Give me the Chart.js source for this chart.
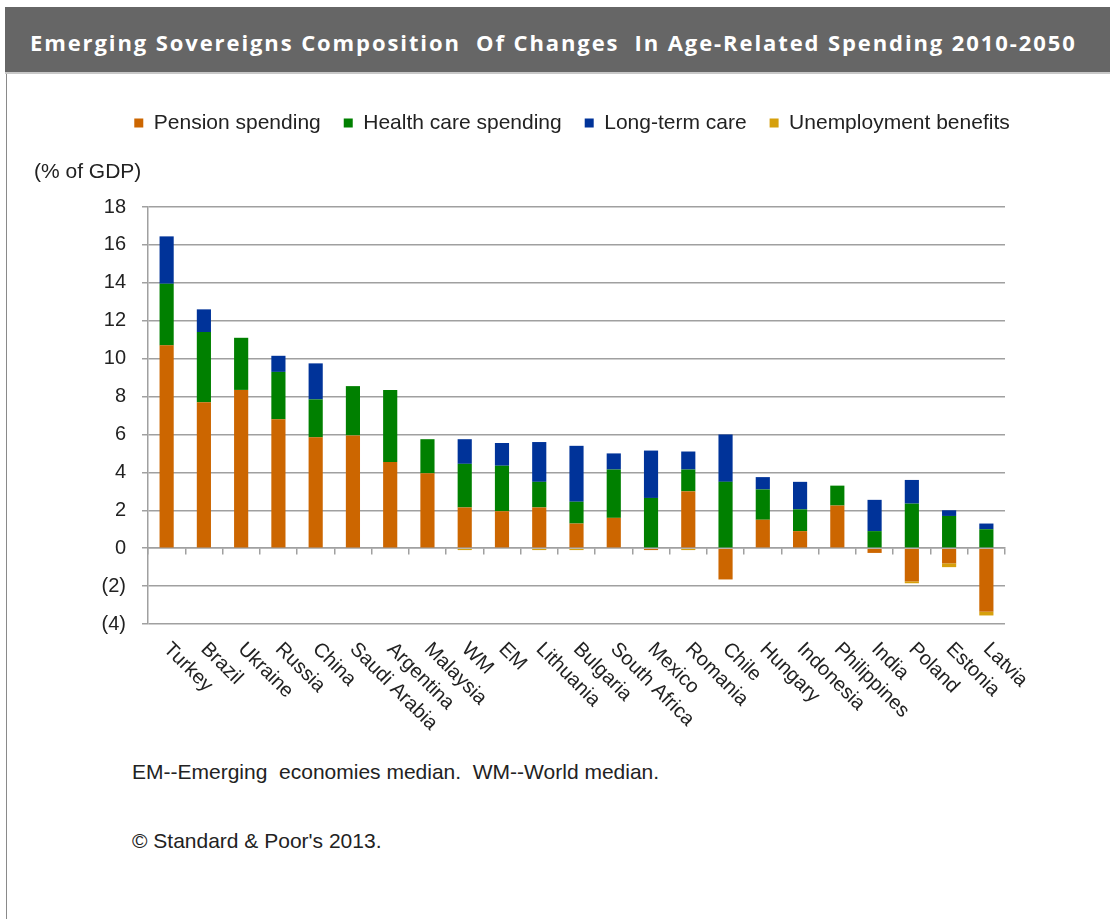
<!DOCTYPE html>
<html lang="en">
<head>
  <meta charset="UTF-8">
  <title>Emerging Sovereigns Composition Of Changes In Age-Related Spending 2010-2050</title>
  <style>
    body {
      margin: 0;
      background: #fff;
      font-family: "Liberation Sans", Arial, sans-serif;
      color: #222;
    }
    #frame {
      position: absolute;
      left: 6px;
      top: 7px;
      width: 1104px;
      height: 930px;
      border-left: 1px solid #8a8a8a;
    }
    #titlebar {
      position: absolute;
      left: 5px;
      top: 7px;
      width: 1105px;
      height: 65px;
      background: #666;
      border-bottom: 2px solid #c8c8c8;
      color: #fff;
      font-family: "Open Sans", sans-serif;
      font-weight: 700;
      font-size: 22px;
      letter-spacing: 1.9px;
      line-height: 65px;
      white-space: pre;
    }
    #titlebar span { position: absolute; left: 25px; top: 3px; }
    #wrap {
      position: absolute;
      left: 0;
      top: 83px;
      width: 1110px;
      height: 670px;
    }
    .note {
      position: absolute;
      left: 132px;
      font-size: 21px;
      line-height: 21px;
      white-space: pre;
    }
  </style>
</head>
<body>
  <div id="frame"></div>
  <div id="titlebar"><span>Emerging Sovereigns Composition  Of Changes  In Age-Related Spending 2010-2050</span></div>
  <div id="wrap"><canvas id="spendingChart"></canvas></div>
  <div class="note" style="top:761px">EM--Emerging  economies median.  WM--World median.</div>
  <div class="note" style="top:830px">© Standard &amp; Poor's 2013.</div>

  <script src="https://cdn.jsdelivr.net/npm/chart.js"></script>
  <script>
    // categories and values (% of GDP)
    var categories = ['Turkey', 'Brazil', 'Ukraine', 'Russia', 'China', 'Saudi Arabia', 'Argentina', 'Malaysia',
      'WM', 'EM', 'Lithuania', 'Bulgaria', 'South Africa', 'Mexico', 'Romania', 'Chile', 'Hungary',
      'Indonesia', 'Philippines', 'India', 'Poland', 'Estonia', 'Latvia'];
    var pension = [10.7, 7.7, 8.35, 6.8, 5.85, 5.95, 4.55, 3.95, 2.15, 1.95, 2.15, 1.3, 1.6, -0.1, 3.0,
      -1.65, 1.5, 0.9, 2.25, -0.25, -1.75, -0.8, -3.35];
    var healthCare = [3.25, 3.7, 2.75, 2.5, 2.0, 2.6, 3.8, 1.8, 2.3, 2.4, 1.35, 1.15, 2.55, 2.65, 1.15,
      3.5, 1.6, 1.15, 1.05, 0.9, 2.35, 1.7, 1.0];
    var longTermCare = [2.5, 1.2, 0, 0.85, 1.9, 0, 0, 0, 1.3, 1.2, 2.1, 2.95, 0.85, 2.5, 0.95,
      2.5, 0.65, 1.45, 0, 1.65, 1.25, 0.3, 0.3];
    var unemployment = [0, 0, 0, 0, 0, 0, 0, 0, -0.1, 0, -0.1, -0.1, 0, 0, -0.1,
      0, 0, 0, 0, 0, -0.1, -0.2, -0.2];
    var yMin = -4, yMax = 18, yStep = 2;

    var gridGray = '#a0a0a0';
    var textColor = '#222';
    var fontFamily = '"Liberation Sans", Arial, sans-serif';

    // category names run down to the right, so they are drawn here
    var slantedLabels = {
      id: 'slantedLabels',
      afterDraw: function (chart) {
        var ctx = chart.ctx;
        var xScale = chart.scales.x;
        ctx.save();
        ctx.font = '20px ' + fontFamily;
        ctx.fillStyle = textColor;
        ctx.textAlign = 'left';
        ctx.textBaseline = 'middle';
        categories.forEach(function (name, i) {
          ctx.save();
          ctx.translate(xScale.getPixelForValue(i), chart.chartArea.bottom + 22);
          ctx.rotate(Math.PI / 4);
          ctx.fillText(name, 0, 0);
          ctx.restore();
        });
        ctx.restore();
      }
    };

    var ctx = document.getElementById('spendingChart').getContext('2d');
    var spendingChart = new Chart(ctx, {
      type: 'bar',
      data: {
        labels: categories,
        datasets: [
          { label: 'Pension spending', data: pension, backgroundColor: '#cc6600' },
          { label: 'Health care spending', data: healthCare, backgroundColor: '#008000' },
          { label: 'Long-term care', data: longTermCare, backgroundColor: '#003399' },
          { label: 'Unemployment benefits', data: unemployment, backgroundColor: '#d6a00c' }
        ]
      },
      options: {
        responsive: true,
        maintainAspectRatio: false,
        animation: false,
        layout: { padding: { left: 34, right: 0, top: 6.5, bottom: 129 } },
        datasets: { bar: { categoryPercentage: 0.38, barPercentage: 1 } },
        plugins: {
          legend: {
            position: 'top',
            labels: {
              boxWidth: 9,
              boxHeight: 9,
              padding: 23,
              color: textColor,
              font: { family: fontFamily, size: 21 }
            }
          },
          title: {
            display: true,
            text: '(% of GDP)',
            align: 'start',
            weight: 500,
            color: textColor,
            font: { family: fontFamily, size: 21, weight: 'normal' },
            padding: { top: 16, bottom: 22.3 }
          },
          tooltip: { enabled: false }
        },
        scales: {
          x: {
            stacked: true,
            position: { y: 0 },
            grid: { display: true, drawOnChartArea: false, drawTicks: true, tickLength: 6, color: gridGray, lineWidth: 1.5 },
            border: { display: true, color: gridGray, width: 1.5 },
            ticks: { display: false }
          },
          y: {
            stacked: true,
            min: yMin,
            max: yMax,
            afterFit: function (scale) { scale.width = 114; },
            grid: { color: gridGray, lineWidth: 1.5, tickLength: 6 },
            border: { display: true, color: gridGray, width: 1.5 },
            ticks: {
              stepSize: yStep,
              padding: 16,
              color: textColor,
              font: { family: fontFamily, size: 20 },
              callback: function (v) { return v < 0 ? '(' + (-v) + ')' : v; }
            }
          },
          y2: {
            position: 'right',
            display: true,
            afterFit: function (scale) { scale.width = 105; },
            grid: { display: false },
            border: { display: false },
            ticks: { display: false }
          }
        }
      },
      plugins: [slantedLabels]
    });
  </script>
</body>
</html>
